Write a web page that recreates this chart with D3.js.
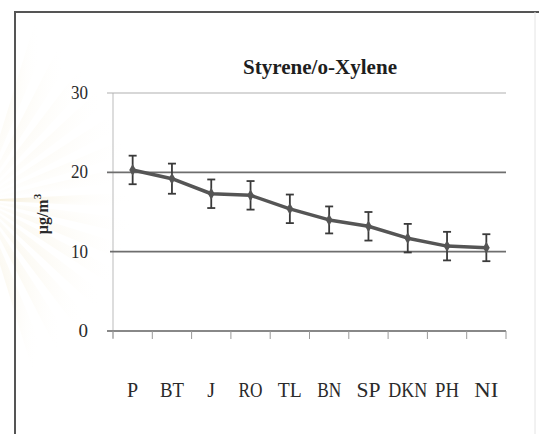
<!DOCTYPE html>
<html><head><meta charset="utf-8">
<script src="https://cdn.jsdelivr.net/npm/d3@7"></script>
<style>body{margin:0;background:#fff}svg{display:block}</style>
</head><body>
<script>
const categories = ["P","BT","J","RO","TL","BN","SP","DKN","PH","NI"];
const values = [20.3,19.2,17.3,17.1,15.4,14.0,13.2,11.7,10.7,10.5];
const errors = [1.8,1.9,1.8,1.8,1.8,1.7,1.8,1.8,1.8,1.7];
const yTicks = [0,10,20,30];
const title = "Styrene/o-Xylene";
const FONT = '"Liberation Serif"';

const W=539,H=434;
const svg=d3.select("body").append("svg").attr("width",W).attr("height",H);
const defs=svg.append("defs");
const rg=defs.append("radialGradient").attr("id","wm").attr("cx","0").attr("cy","0.45").attr("r","0.6");
rg.append("stop").attr("offset","0").attr("stop-color","#f1e6c6").attr("stop-opacity",1);
rg.append("stop").attr("offset","1").attr("stop-color","#fff").attr("stop-opacity",0);
const wm=svg.append("g");
d3.range(-70,75,10).forEach(a=>{
  const r=a*Math.PI/180, L=260;
  const cx=-20, cy=200;
  const r1=r-0.05, r2=r+0.05;
  wm.append("path").attr("d",`M${cx},${cy}L${cx+L*Math.cos(r1)},${cy+L*Math.sin(r1)}L${cx+L*Math.cos(r2)},${cy+L*Math.sin(r2)}Z`)
    .attr("fill","url(#wm)").attr("opacity",0.8);
});

svg.append("path").attr("d","M15,434V12H539").attr("fill","none").attr("stroke","#555").attr("stroke-width",2);
svg.append("line").attr("x1",535).attr("x2",535).attr("y1",12).attr("y2",434).attr("stroke","#e4e4e4").attr("stroke-width",1);

const x=d3.scaleBand().domain(categories).range([113,506]).padding(0);
const y=d3.scaleLinear().domain([0,30]).range([331,93]);

svg.append("line").attr("x1",113).attr("x2",113).attr("y1",y(30)).attr("y2",338).attr("stroke","#bbb").attr("stroke-width",1);
svg.selectAll(".grid").data(yTicks).join("line")
  .attr("x1",d=>d===10?110:107).attr("x2",506)
  .attr("y1",d=>y(d)).attr("y2",d=>y(d))
  .attr("stroke",d=>d===30?"#b0b0b0":(d===0?"#888":"#6e6e6e"))
  .attr("stroke-width",d=>d===30?1.2:(d===0?2:1.6));
svg.selectAll(".yl").data(yTicks).join("text")
  .attr("x",88).attr("y",d=>y(d)+6).attr("text-anchor","end")
  .style("font-family",FONT).attr("font-size",19).attr("fill","#2a2a2a")
  .attr("textLength",d=>String(d).length>1?17:null).attr("lengthAdjust","spacingAndGlyphs")
  .text(d=>d);
const bounds=categories.map(c=>x(c)).concat([x.range()[1]]);
svg.selectAll(".xt").data(bounds).join("line")
  .attr("x1",d=>d).attr("x2",d=>d).attr("y1",331).attr("y2",339)
  .attr("stroke","#999").attr("stroke-width",1);
svg.selectAll(".xl").data(categories).join("text")
  .attr("x",d=>x(d)+x.bandwidth()/2).attr("y",397).attr("text-anchor","middle")
  .style("font-family",FONT).attr("font-size",20).attr("fill","#2a2a2a")
  .attr("textLength",d=>d.length>2?39:(d.length>1?24:null)).attr("lengthAdjust","spacingAndGlyphs")
  .text(d=>d);
svg.append("text").attr("x",320).attr("y",74).attr("text-anchor","middle")
  .style("font-family",FONT).attr("font-weight","bold").attr("font-size",21).attr("fill","#1e1e1e")
  .attr("textLength",154).attr("lengthAdjust","spacingAndGlyphs")
  .text(title);
svg.append("text").attr("transform","translate(48,214) rotate(-90)").attr("text-anchor","middle")
  .style("font-family",FONT).attr("font-weight","bold").attr("font-size",16).attr("fill","#2a2a2a")
  .html('μg/m<tspan dy="-7" font-size="11">3</tspan>');

const cx=d=>x(d)+x.bandwidth()/2;
const data=categories.map((c,i)=>({c,v:values[i],e:errors[i]}));
svg.append("path").datum(data).attr("fill","none").attr("stroke","#555").attr("stroke-width",3.5)
  .attr("stroke-linejoin","round")
  .attr("d",d3.line().x(d=>cx(d.c)).y(d=>y(d.v)));
const eb=svg.selectAll(".eb").data(data).join("g").attr("stroke","#3a3a3a").attr("stroke-width",1.8);
eb.append("line").attr("x1",d=>cx(d.c)).attr("x2",d=>cx(d.c)).attr("y1",d=>y(d.v+d.e)).attr("y2",d=>y(d.v-d.e));
eb.append("line").attr("x1",d=>cx(d.c)-4).attr("x2",d=>cx(d.c)+4).attr("y1",d=>y(d.v+d.e)).attr("y2",d=>y(d.v+d.e));
eb.append("line").attr("x1",d=>cx(d.c)-4).attr("x2",d=>cx(d.c)+4).attr("y1",d=>y(d.v-d.e)).attr("y2",d=>y(d.v-d.e));
svg.selectAll(".mk").data(data).join("path")
  .attr("transform",d=>`translate(${cx(d.c)},${y(d.v)})`)
  .attr("d",d3.symbol(d3.symbolDiamond,40)).attr("fill","#555");
</script>
</body></html>
